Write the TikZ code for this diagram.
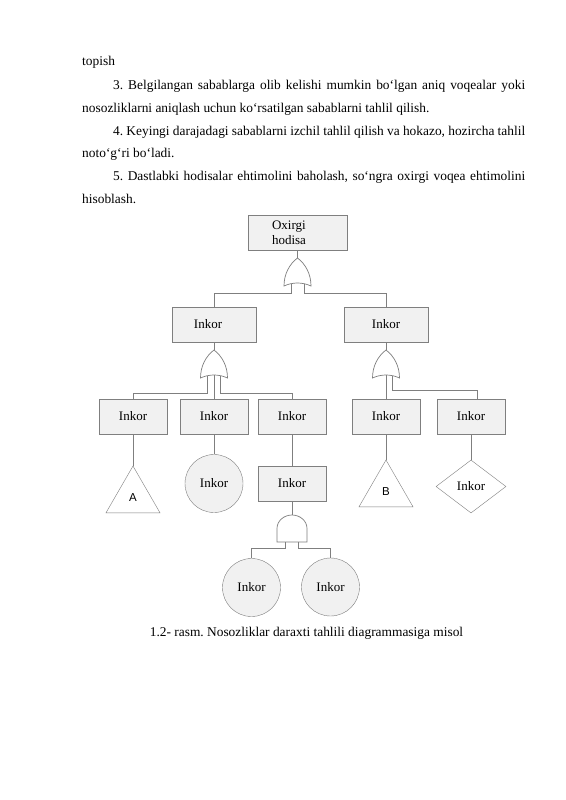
\documentclass[tikz,border=0pt]{standalone}
\usepackage{fontspec}
\setmainfont{Liberation Serif}
\setsansfont{Liberation Sans}
\usetikzlibrary{shapes.geometric, positioning}
\definecolor{edgegray}{HTML}{7F7F7F}
\definecolor{fillgray}{HTML}{F1F1F1}
\tikzstyle{block} = [draw=edgegray, fill=fillgray, rectangle,
    minimum height=35pt, minimum width=68pt, inner sep=1pt]
\tikzstyle{wideblock} = [block, minimum width=84pt]
\tikzstyle{basic} = [draw=edgegray, fill=fillgray, circle, minimum size=58pt, inner sep=0pt]
\tikzstyle{transfer} = [draw=edgegray, fill=white, regular polygon, regular polygon sides=3,
    minimum size=62.4pt, inner sep=0pt, font=\sffamily\fontsize{11.5}{13}\selectfont]
\tikzstyle{undeveloped} = [draw=edgegray, fill=white, diamond,
    minimum width=70pt, minimum height=53pt, inner sep=0pt]
\tikzstyle{wire} = [draw=edgegray, line width=0.7pt]
\tikzstyle{gateline} = [draw=edgegray, fill=white, line width=0.7pt]
\tikzstyle{textline} = [anchor=base west, inner sep=0pt, font=\fontsize{13.4}{16}\selectfont]
\newcommand{\fullline}[1]{\makebox[412pt][s]{#1}}
\frenchspacing
% gates drawn as pics, with named output and input points
\tikzset{
    orgate/.pic={
        \draw [gateline] (0,-14) .. controls (8,-8) and (13.5,2) .. (13.5,14)
            .. controls (5,10) and (-5,10) .. (-13.5,14)
            .. controls (-13.5,2) and (-8,-8) .. (0,-14) -- cycle;
        \coordinate (-out) at (0,-14);
        \coordinate (-in1) at (-6.5,11.7);
        \coordinate (-in2) at (0,11);
        \coordinate (-in3) at (6.5,11.7);
    },
    andgate/.pic={
        \draw [gateline] (-15,13.5) -- (-15,0) arc [start angle=180, end angle=0,
            x radius=15, y radius=-13.5] -- (15,13.5) -- cycle;
        \coordinate (-out) at (0,-13.5);
        \coordinate (-in1) at (-6.5,13.5);
        \coordinate (-in2) at (6.5,13.5);
    }
}

\begin{document}
\begin{tikzpicture}[x=1pt, y=-1pt, font=\fontsize{13}{15}\selectfont]
    \fill[white] (0,0) rectangle (565,800);
    \useasboundingbox (0,0) rectangle (565,800);
    % text above the figure
    \node [textline] (p0) at (82,66) {topish};
    \node [textline] (p1) at (113,89) {\fullline{3. Belgilangan sabablarga olib kelishi mumkin bo‘lgan aniq voqealar yoki}};
    \node [textline] (p2) at (82,112) {nosozliklarni aniqlash uchun ko‘rsatilgan sabablarni tahlil qilish.};
    \node [textline] (p3) at (113,135) {\fullline{4. Keyingi darajadagi sabablarni izchil tahlil qilish va hokazo, hozircha tahlil}};
    \node [textline] (p4) at (82,157) {noto‘g‘ri bo‘ladi.};
    \node [textline] (p5) at (113,180) {\fullline{5. Dastlabki hodisalar ehtimolini baholash, so‘ngra oxirgi voqea ehtimolini}};
    \node [textline] (p6) at (82,203) {hisoblash.};
    % the tree
    \node [block, minimum width=99pt, text width=51pt, align=left] (top) at (297.5,232.5) {Oxirgi\\hodisa};
    \pic (g0) at (297.5,272) {orgate};
    \node [wideblock] (l1) at (214,324.5) {\hspace*{-12pt}Inkor};
    \node [wideblock] (l2) at (386,324.5) {Inkor};
    \pic (g1) at (214,364) {orgate};
    \pic (g2) at (386,364) {orgate};
    \node [block] (r1) at (133,416.5) {Inkor};
    \node [block] (r2) at (214,416.5) {Inkor};
    \node [block] (r3) at (292,416.5) {Inkor};
    \node [block] (r4) at (386,416.5) {Inkor};
    \node [block] (r5) at (471,416.5) {Inkor};
    \node [transfer] (ta) at (133,497.2) {A};
    \node [basic] (c1) at (214,483.5) {Inkor};
    \node [block] (d1) at (292,483.5) {Inkor};
    \node [transfer] (tb) at (386,491.2) {B};
    \node [undeveloped] (dm) at (471,486.5) {Inkor};
    \pic (g3) at (292,528.5) {andgate};
    \node [basic] (c2) at (251.5,587.5) {Inkor};
    \node [basic] (c3) at (330.5,587) {Inkor};
    % bus levels
    \coordinate (bus0) at (0,293);
    \coordinate (bus1) at (0,393);
    \coordinate (bus2) at (0,390);
    \coordinate (bus3) at (0,548);
    % connectors
    \draw [wire] (top) -- (g0-out);
    \draw [wire] (g0-in1) -- (g0-in1 |- bus0) -| (l1.north);
    \draw [wire] (g0-in3) -- (g0-in3 |- bus0) -| (l2.north);
    \draw [wire] (l1) -- (g1-out);
    \draw [wire] (l2) -- (g2-out);
    \draw [wire] (g1-in1) -- (g1-in1 |- bus1) -| (r1.north);
    \draw [wire] (g1-in2) -- (g1-in2 |- r2.north);
    \draw [wire] (g1-in3) -- (g1-in3 |- bus1) -| (r3.north);
    \draw [wire] (g2-in2) -- (g2-in2 |- r4.north);
    \draw [wire] (g2-in3) -- (g2-in3 |- bus2) -| ([xshift=6pt]r5.north);
    \draw [wire] (r1) -- (ta.corner 1);
    \draw [wire] (r2) -- (c1);
    \draw [wire] (r3) -- (d1);
    \draw [wire] (r4) -- (tb.corner 1);
    \draw [wire] (r5) -- (dm);
    \draw [wire] (d1) -- (g3-out);
    \draw [wire] (g3-in1) -- (g3-in1 |- bus3) -| (c2.north);
    \draw [wire] (g3-in2) -- (g3-in2 |- bus3) -| (c3.north);
    % caption
    \node [anchor=base, inner sep=0pt, font=\fontsize{13.4}{16}\selectfont] (cap) at (306.5,636) {1.2- rasm. Nosozliklar daraxti tahlili diagrammasiga misol};
\end{tikzpicture}
\end{document}
